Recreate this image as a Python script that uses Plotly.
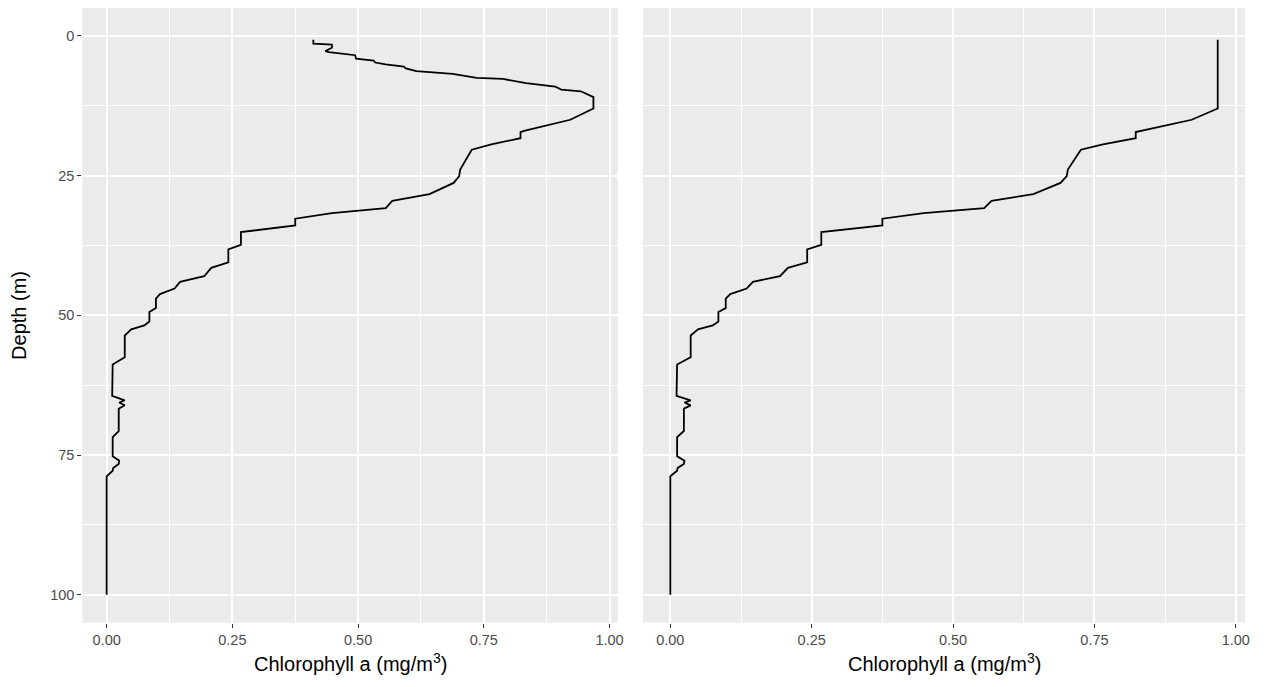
import plotly.graph_objects as go

# Chlorophyll a profile (mg/m^3) against depth (m)
depth = [0.7, 1.4, 1.55, 2.1, 2.7, 2.9, 3.45, 4.05, 4.4, 4.76, 5.1, 5.5, 5.8, 6.3,
         6.8, 7.5, 7.7, 8.2, 8.45, 9.05, 9.6, 9.9, 10.95, 12.98, 15.0, 17.0, 17.2,
         18.3, 19.4, 20.36, 23.9, 25.1, 26.3, 28.3, 29.5, 30.8, 31.7, 32.7, 33.9,
         35.1, 37.4, 38.2, 40.5, 41.5, 43.0, 44.0, 45.2, 46.2, 47.0, 48.7, 49.4,
         51.1, 51.8, 52.5, 53.6, 57.5, 58.8, 64.4, 65.2, 65.6, 66.1, 66.7, 70.7,
         71.8, 75.2, 76.0, 76.6, 77.3, 77.8, 78.8, 100.0]

chl_raw = [0.411, 0.411, 0.448, 0.448, 0.435, 0.442, 0.494, 0.496, 0.531, 0.534,
           0.555, 0.591, 0.595, 0.616, 0.688, 0.736, 0.788, 0.822, 0.834, 0.892,
           0.904, 0.943, 0.968, 0.968, 0.922, 0.830, 0.823, 0.823, 0.765, 0.726,
           0.703, 0.701, 0.690, 0.642, 0.568, 0.555, 0.448, 0.375, 0.375, 0.267,
           0.267, 0.242, 0.242, 0.208, 0.194, 0.146, 0.135, 0.106, 0.098, 0.098,
           0.085, 0.085, 0.075, 0.049, 0.036, 0.036, 0.012, 0.011, 0.036, 0.025,
           0.036, 0.024, 0.024, 0.012, 0.012, 0.025, 0.024, 0.013, 0.012, 0.0, 0.0]

# Same profile with the surface layer (above the maximum) set to the peak value
chl_filled = [0.968, 0.968, 0.968, 0.968, 0.968, 0.968, 0.968, 0.968, 0.968, 0.968,
              0.968, 0.968, 0.968, 0.968, 0.968, 0.968, 0.968, 0.968, 0.968, 0.968,
              0.968, 0.968, 0.968, 0.968, 0.922, 0.830, 0.823, 0.823, 0.765, 0.726,
              0.703, 0.701, 0.690, 0.642, 0.568, 0.555, 0.448, 0.375, 0.375, 0.267,
              0.267, 0.242, 0.242, 0.208, 0.194, 0.146, 0.135, 0.106, 0.098, 0.098,
              0.085, 0.085, 0.075, 0.049, 0.036, 0.036, 0.012, 0.011, 0.036, 0.025,
              0.036, 0.024, 0.024, 0.012, 0.012, 0.025, 0.024, 0.013, 0.012, 0.0, 0.0]

x_ticks = [0.0, 0.25, 0.5, 0.75, 1.0]
x_tick_labels = ["0.00", "0.25", "0.50", "0.75", "1.00"]
y_ticks = [0, 25, 50, 75, 100]
y_tick_labels = ["0", "25", "50", "75", "100"]

W, H = 1271, 687
FONT = "Liberation Sans, Arial, sans-serif"
PANEL_BG = "#EBEBEB"
TICK_COL = "#4D4D4D"
TICK_SIZE = 14.5
TITLE_SIZE = 20

fig = go.Figure()
fig.add_trace(go.Scatter(x=chl_raw, y=depth, mode="lines",
                         line=dict(color="black", width=1.8),
                         xaxis="x", yaxis="y", showlegend=False))
fig.add_trace(go.Scatter(x=chl_filled, y=depth, mode="lines",
                         line=dict(color="black", width=1.8),
                         xaxis="x2", yaxis="y2", showlegend=False))

x_range = [-0.0484, 1.0164]
y_range = [105.0, -5.0]

common_x = dict(range=x_range, tickmode="array", tickvals=x_ticks, ticktext=x_tick_labels,
                showgrid=True, gridcolor="white", gridwidth=1.8, zeroline=False,
                ticks="outside", ticklen=4, tickwidth=1, tickcolor="#333333",
                tickfont=dict(family=FONT, size=TICK_SIZE, color=TICK_COL),
                minor=dict(tickvals=[0.125, 0.375, 0.625, 0.875], showgrid=True,
                           gridcolor="white", gridwidth=0.9, ticks=""),
                showline=False, fixedrange=True)
common_y = dict(range=y_range, tickmode="array", tickvals=y_ticks, ticktext=y_tick_labels,
                showgrid=True, gridcolor="white", gridwidth=1.8, zeroline=False,
                minor=dict(tickvals=[12.5, 37.5, 62.5, 87.5], showgrid=True,
                           gridcolor="white", gridwidth=0.9, ticks=""),
                showline=False, fixedrange=True)

y_dom = [64.3 / H, 1 - 8 / H]
fig.update_layout(
    width=W, height=H,
    margin=dict(l=0, r=0, t=0, b=0),
    paper_bgcolor="white", plot_bgcolor=PANEL_BG,
    xaxis=dict(domain=[82.7 / W, 620.7 / W], anchor="y", **common_x),
    xaxis2=dict(domain=[646 / W, 1251 / W], anchor="y2", **common_x),
    yaxis=dict(domain=y_dom, anchor="x", ticks="outside", ticklen=4, tickwidth=1,
               tickcolor="#333333", showticklabels=True,
               tickfont=dict(family=FONT, size=TICK_SIZE, color=TICK_COL), **common_y),
    yaxis2=dict(domain=y_dom, anchor="x2", ticks="", showticklabels=False, **common_y),
    annotations=[
        dict(text="Chlorophyll a (mg/m<sup>3</sup>)", x=351.7 / W, y=1 - 662 / H,
             xref="paper", yref="paper", showarrow=False, xanchor="center", yanchor="middle",
             font=dict(family=FONT, size=TITLE_SIZE, color="black")),
        dict(text="Chlorophyll a (mg/m<sup>3</sup>)", x=948.5 / W, y=1 - 662 / H,
             xref="paper", yref="paper", showarrow=False, xanchor="center", yanchor="middle",
             font=dict(family=FONT, size=TITLE_SIZE, color="black")),
        dict(text="Depth (m)", x=19 / W, y=1 - 315 / H, textangle=-90,
             xref="paper", yref="paper", showarrow=False, xanchor="center", yanchor="middle",
             font=dict(family=FONT, size=TITLE_SIZE, color="black")),
    ],
)

fig.write_html("out.html")
